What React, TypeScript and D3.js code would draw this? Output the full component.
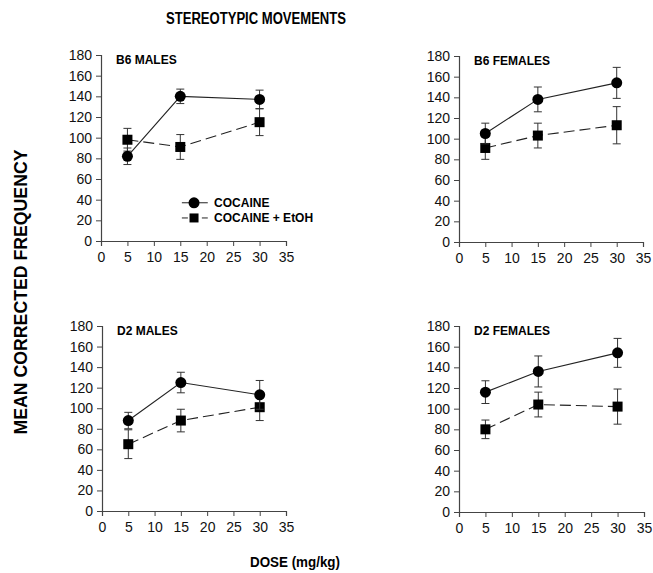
import { useEffect, useRef } from 'react';
import * as d3 from 'd3';

const doses = [5, 15, 30];
const panelTitles = ['B6 MALES', 'B6 FEMALES', 'D2 MALES', 'D2 FEMALES'];
const seriesNames = ['COCAINE', 'COCAINE + EtOH'];

// mean values per panel (cocaine / cocaine + EtOH)
const cocaineMeans = [
  [82, 140, 137],
  [105, 138, 154],
  [88, 125, 113],
  [116, 136, 154],
];
const cocaineSem = [
  [8, 7, 9],
  [10, 12, 15],
  [8, 10, 14],
  [11, 15, 14],
];
const ethanolMeans = [
  [98, 91, 115],
  [91, 103, 113],
  [65, 88, 101],
  [80, 104, 102],
];
const ethanolSem = [
  [11, 12, 13],
  [11, 12, 18],
  [14, 11, 13],
  [9, 12, 17],
];

const xTicks = [0, 5, 10, 15, 20, 25, 30, 35];
const yTicks = [0, 20, 40, 60, 80, 100, 120, 140, 160, 180];

const App = () => {
  const svgRef = useRef<SVGSVGElement>(null);

  useEffect(() => {
    const width = 653;
    const height = 573;
    const svg = d3.select(svgRef.current);
    svg.selectAll('*').remove();
    svg.attr('width', width).attr('height', height);

    const font = 'Liberation Sans, Arial, sans-serif';

    // panel frames: left x of y-axis, right end of x-axis, top (180) and bottom (0)
    const frames = [
      { x0: 101, x1: 286, y0: 241, y1: 55 },
      { x0: 459, x1: 643, y0: 242, y1: 56 },
      { x0: 102, x1: 286, y0: 511, y1: 326 },
      { x0: 459, x1: 644, y0: 512, y1: 326 },
    ];

    frames.forEach((f, i) => {
      const x = d3.scaleLinear().domain([0, 35]).range([f.x0, f.x1]);
      const y = d3.scaleLinear().domain([0, 180]).range([f.y0, f.y1]);
      const g = svg.append('g');

      const xAxis = g.append('g')
        .attr('transform', `translate(0, ${f.y0})`)
        .call(d3.axisBottom(x).tickValues(xTicks).tickSize(5).tickPadding(6).tickFormat(d3.format('d')));
      const yAxis = g.append('g')
        .attr('transform', `translate(${f.x0}, 0)`)
        .call(d3.axisLeft(y).tickValues(yTicks).tickSize(5).tickPadding(4).tickFormat(d3.format('d')));
      [xAxis, yAxis].forEach(a => {
        a.select('.domain').attr('stroke', '#444').attr('stroke-width', 1.2);
        a.selectAll('line').attr('stroke', '#444');
        a.selectAll('text')
          .attr('fill', '#111')
          .style('font-family', font)
          .style('font-size', '14px');
      });

      g.append('text')
        .attr('x', f.x0 + 15)
        .attr('y', f.y1 + 9)
        .style('font-family', font)
        .style('font-size', '12px')
        .style('font-weight', 'bold')
        .text(panelTitles[i]);

      const series = [
        { means: ethanolMeans[i], sem: ethanolSem[i], dash: '11,5', shape: 'square' },
        { means: cocaineMeans[i], sem: cocaineSem[i], dash: null, shape: 'circle' },
      ];

      series.forEach(s => {
        const pts = doses.map((d, k) => ({ dose: d, mean: s.means[k], sem: s.sem[k] }));
        const line = d3.line<{ dose: number; mean: number }>()
          .x(d => x(d.dose))
          .y(d => y(d.mean));
        g.append('path')
          .attr('d', line(pts))
          .attr('fill', 'none')
          .attr('stroke', '#222')
          .attr('stroke-width', 1.1)
          .attr('stroke-dasharray', s.dash);

        const eb = g.append('g').attr('stroke', '#333').attr('stroke-width', 1);
        pts.forEach(p => {
          const cx = x(p.dose);
          eb.append('line').attr('x1', cx).attr('x2', cx).attr('y1', y(p.mean - p.sem)).attr('y2', y(p.mean + p.sem));
          [p.mean - p.sem, p.mean + p.sem].forEach(v => {
            eb.append('line').attr('x1', cx - 4).attr('x2', cx + 4).attr('y1', y(v)).attr('y2', y(v));
          });
        });

        if (s.shape === 'circle') {
          g.selectAll(null).data(pts).enter().append('circle')
            .attr('cx', d => x(d.dose))
            .attr('cy', d => y(d.mean))
            .attr('r', 5.5)
            .attr('fill', '#000');
        } else {
          g.selectAll(null).data(pts).enter().append('rect')
            .attr('x', d => x(d.dose) - 5)
            .attr('y', d => y(d.mean) - 5)
            .attr('width', 10)
            .attr('height', 10)
            .attr('fill', '#000');
        }
      });

      // legend lives in the first panel only
      if (i === 0) {
        const lg = g.append('g');
        const ly = [y(37), y(22.3)];
        seriesNames.forEach((name, k) => {
          lg.append('line')
            .attr('x1', x(15.3)).attr('x2', x(20.2))
            .attr('y1', ly[k]).attr('y2', ly[k])
            .attr('stroke', '#222')
            .attr('stroke-dasharray', k === 1 ? '6,4' : null);
          if (k === 0) {
            lg.append('circle').attr('cx', x(17.6)).attr('cy', ly[k]).attr('r', 5.5).attr('fill', '#000');
          } else {
            lg.append('rect').attr('x', x(17.6) - 4.5).attr('y', ly[k] - 4.5).attr('width', 9).attr('height', 9).attr('fill', '#000');
          }
          lg.append('text')
            .attr('x', x(21.4))
            .attr('y', ly[k] + 4.5)
            .style('font-family', font)
            .style('font-size', '12px')
            .style('font-weight', 'bold')
            .text(name);
        });
      }
    });

    svg.append('text')
      .attr('x', 256)
      .attr('y', 24)
      .attr('text-anchor', 'middle')
      .style('font-family', font)
      .style('font-size', '16px')
      .style('font-weight', 'bold')
      .attr('textLength', 180)
      .attr('lengthAdjust', 'spacingAndGlyphs')
      .text('STEREOTYPIC MOVEMENTS');

    svg.append('text')
      .attr('transform', `translate(27, 292) rotate(-90)`)
      .attr('text-anchor', 'middle')
      .style('font-family', font)
      .style('font-size', '18px')
      .style('font-weight', 'bold')
      .attr('textLength', 285)
      .attr('lengthAdjust', 'spacingAndGlyphs')
      .text('MEAN CORRECTED FREQUENCY');

    svg.append('text')
      .attr('x', 295)
      .attr('y', 567)
      .attr('text-anchor', 'middle')
      .style('font-family', font)
      .style('font-size', '14px')
      .style('font-weight', 'bold')
      .attr('textLength', 90)
      .attr('lengthAdjust', 'spacingAndGlyphs')
      .text('DOSE (mg/kg)');
  }, []);

  return (
    <svg ref={svgRef} style={{ position: 'absolute', left: 0, top: 0 }} />
  );
};

export default App;
